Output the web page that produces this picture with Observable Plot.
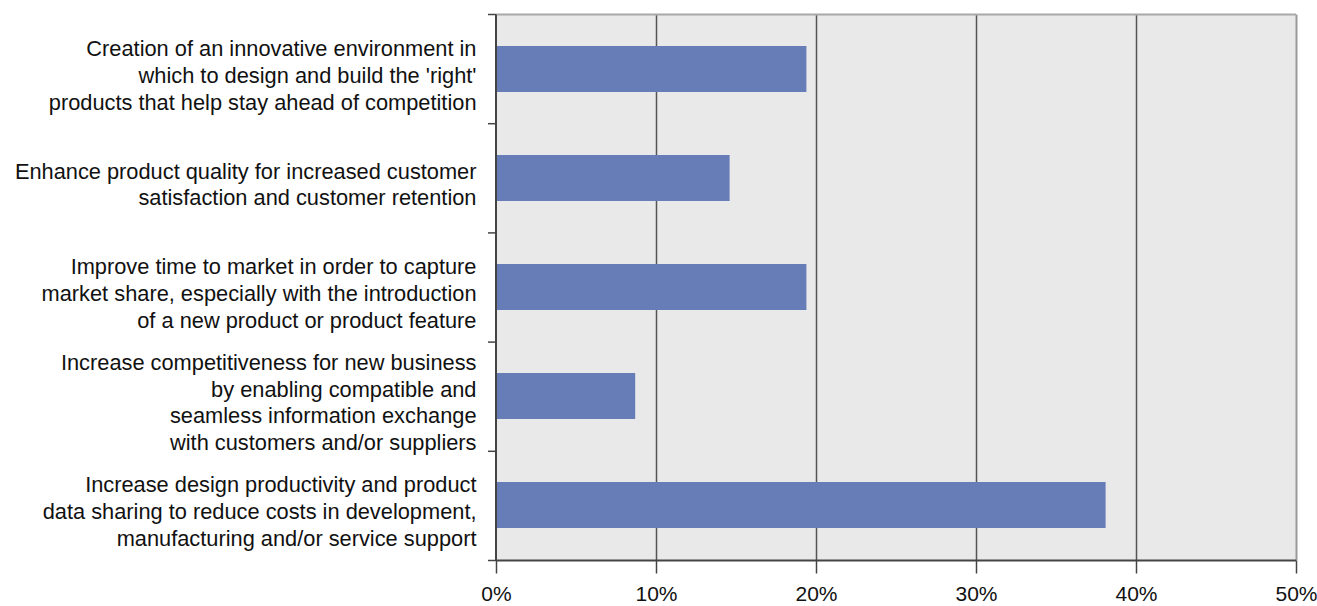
<!DOCTYPE html>
<html>
<head>
<meta charset="utf-8">
<script src="https://cdn.jsdelivr.net/npm/d3@7"></script>
<script src="https://cdn.jsdelivr.net/npm/@observablehq/plot@0.6"></script>
<style>
  html, body { margin: 0; padding: 0; background: #fff; }
  #chart svg { display: block; }
</style>
</head>
<body>
<div id="chart"></div>
<script>
const categories = [
  "Creation of an innovative environment in\nwhich to design and build the 'right'\nproducts that help stay ahead of competition",
  "Enhance product quality for increased customer\nsatisfaction and customer retention",
  "Improve time to market in order to capture\nmarket share, especially with the introduction\nof a new product or product feature",
  "Increase competitiveness for new business\nby enabling compatible and\nseamless information exchange\nwith customers and/or suppliers",
  "Increase design productivity and product\ndata sharing to reduce costs in development,\nmanufacturing and/or service support"
];
const values = [19.4, 14.6, 19.4, 8.7, 38.1];
const xTicks = [0, 10, 20, 30, 40, 50];
const gridTicks = [10, 20, 30, 40];

const data = categories.map((c, i) => ({category: c, value: values[i]}));

// boundary ticks, top border, bottom axis line
function decorations(index, scales, values, dims) {
  const g = d3.create("svg:g");
  const top = dims.marginTop, bottom = dims.height - dims.marginBottom;
  const left = dims.marginLeft, right = dims.width - dims.marginRight;
  const n = categories.length;
  const step = (bottom - top) / n;
  g.append("line").attr("x1", left).attr("x2", right).attr("y1", top).attr("y2", top)
    .attr("stroke", "#a8a8a8").attr("stroke-width", 2);
  for (let i = 0; i <= n; i++) {
    const y = top + i * step;
    g.append("line").attr("x1", left - 8).attr("x2", left).attr("y1", y).attr("y2", y)
      .attr("stroke", "#444").attr("stroke-width", 1.5);
  }
  g.append("line").attr("x1", left).attr("x2", right).attr("y1", bottom).attr("y2", bottom)
    .attr("stroke", "#444").attr("stroke-width", 2);
  g.append("line").attr("x1", left).attr("x2", left).attr("y1", top).attr("y2", bottom)
    .attr("stroke", "#444").attr("stroke-width", 2);
  return g.node();
}

const chart = Plot.plot({
  width: 1317,
  height: 606,
  marginTop: 14.5,
  marginBottom: 45.5,
  marginLeft: 496,
  marginRight: 21,
  style: {fontFamily: "'Liberation Sans', Arial, sans-serif", fontSize: "21.8px", color: "#000", background: "#fff"},
  x: {domain: [0, 50], axis: null, label: null},
  y: {domain: categories, paddingInner: 0.574, paddingOuter: 0.287, axis: null, label: null},
  marks: [
    Plot.frame({fill: "#e9e9e9", stroke: null}),
    Plot.ruleX(gridTicks, {stroke: "#555", strokeWidth: 1.5}),
    Plot.ruleX([50], {stroke: "#999", strokeWidth: 2}),
    Plot.barX(data, {x: "value", y: "category", fill: "#677db8"}),
    decorations,
    Plot.axisX(xTicks, {
      label: null, tickSize: 13, tickPadding: 12, stroke: "#444", strokeWidth: 1.5, strokeOpacity: 1,
      tickFormat: d => d + "%", fontSize: 21, fill: "#111"
    }),
    Plot.text(categories, {
      x: 0, y: d => d, text: d => d, dx: -20, dy: 5,
      textAnchor: "end", lineAnchor: "middle", lineHeight: 1.22, fontSize: 21.8, fill: "#111"
    })
  ]
});
document.getElementById("chart").appendChild(chart);
</script>
</body>
</html>
